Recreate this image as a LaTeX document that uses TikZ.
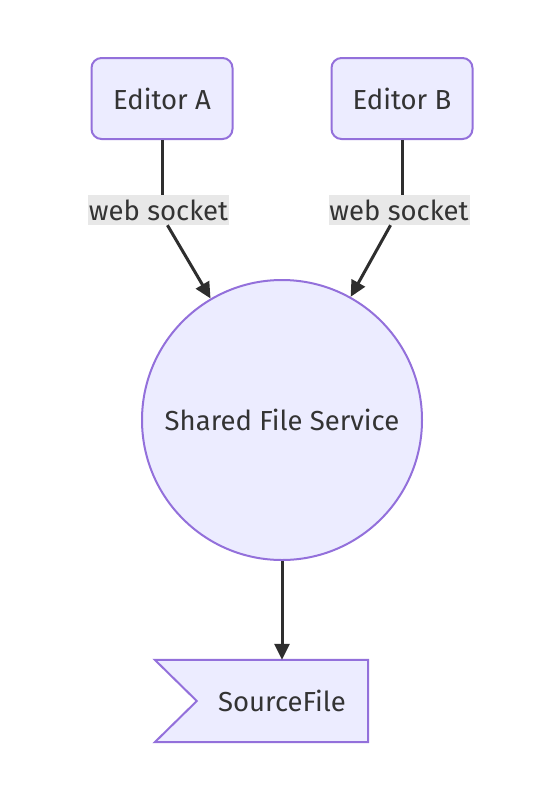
\documentclass[tikz,border=0pt]{standalone}
\usepackage{fontspec}
\setmainfont{Fira Sans}
\usetikzlibrary{arrows.meta,calc}
\definecolor{nodefill}{HTML}{ECECFF}
\definecolor{nodeline}{HTML}{9370DB}
\definecolor{textgray}{HTML}{333333}
\definecolor{labelbg}{HTML}{E8E8E8}
\begin{document}
\begin{tikzpicture}[x=1pt,y=-1pt,>={Triangle[length=16pt,width=15pt]},
        every node/.style={font=\fontsize{27.5}{32}\selectfont,text=textgray},
        editor/.style={draw=nodeline,fill=nodefill,line width=2pt,rounded corners=10pt,minimum width=141pt,minimum height=81pt},
        service/.style={circle,draw=nodeline,fill=nodefill,line width=2pt,minimum size=280pt},
        sourcebox/.style={minimum width=213pt,minimum height=82pt,inner sep=0pt},
        socket/.style={fill=labelbg,inner sep=0pt,minimum width=141pt,minimum height=30pt},
        link/.style={->,draw=textgray!90!black,line width=3pt}]
        \useasboundingbox(0,0)rectangle(556,796);
        \node[editor](edA)at(162,98.5){Editor A};
        \node[editor](edB)at(402,98.5){Editor B};
        \node[service](svc)at(282,420){Shared File Service};
        \node[sourcebox](src)at(261.5,701){};
        \filldraw[fill=nodefill,draw=nodeline,line width=2pt]
            (src.north west)--(src.north east)--(src.south east)--(src.south west)--($(src.west)+(42,0)$)--cycle;
        \node at(282,701){SourceFile};
        \node[socket](sockA)at(158.5,210){web socket};
        \node[socket](sockB)at(399,210){web socket};
        \draw[link,-](edA.south)--(edA.south|-sockA.north);
        \draw[link,-](edB.south)--(edB.south|-sockB.north);
        \draw[link](sockA)--(svc);
        \draw[link](sockB)--(svc);
        \draw[link](svc.south)--(svc.south|-src.north);
    \end{tikzpicture}
\end{document}
